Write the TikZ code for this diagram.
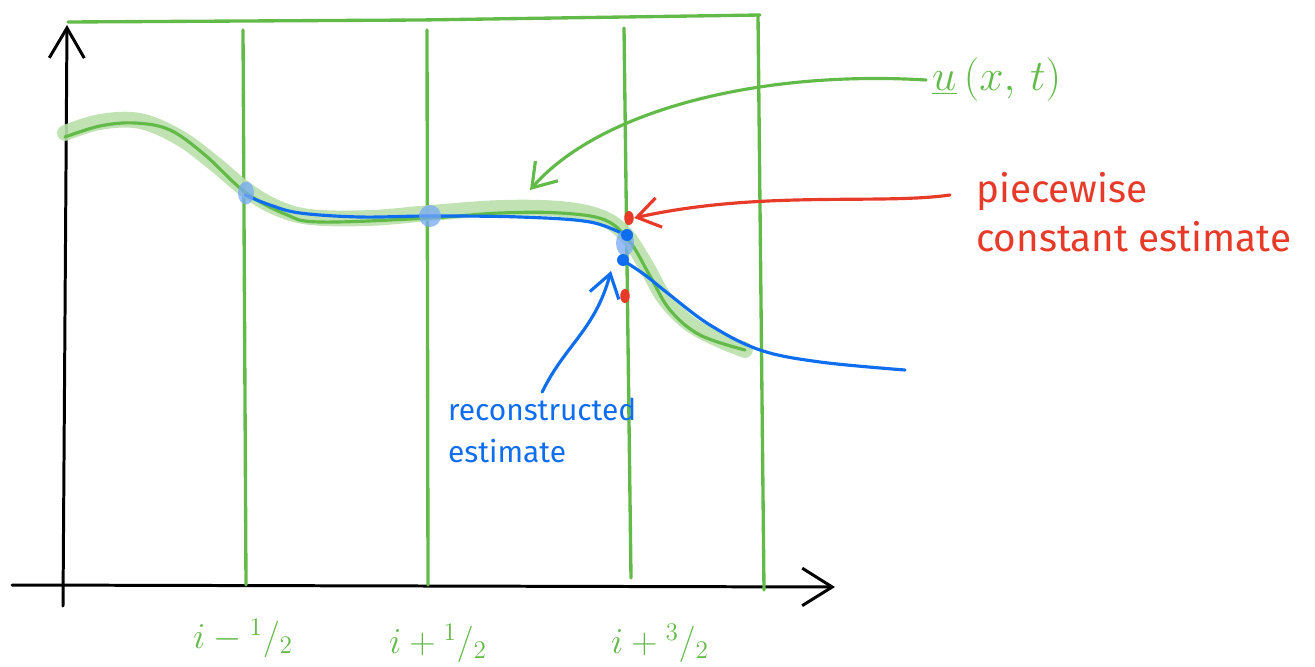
\documentclass[tikz,border=0pt]{standalone}
\usepackage{fontspec}
\setmainfont{Fira Sans}
\usetikzlibrary{arrows.meta,positioning,shapes.geometric}
\definecolor{leaf}{RGB}{98,186,72}
\definecolor{leafsoft}{RGB}{186,224,172}
\definecolor{ink}{RGB}{15,110,240}
\definecolor{inksoft}{RGB}{120,170,245}
\definecolor{brick}{RGB}{232,58,40}

\begin{document}
\begin{tikzpicture}[x=0.02cm,y=-0.02cm,line cap=round,line join=round,
  axis/.style={black,line width=1.7pt},
  grid/.style={leaf,line width=1.9pt},
  band/.style={leafsoft,line width=9pt,opacity=0.9},
  exact/.style={leaf,line width=1.8pt},
  recon/.style={ink,line width=1.8pt},
  handtip/.style={-{Straight Barb[length=0.45cm,width=0.6cm,line width=1.8pt]}},
  blob/.style={fill=inksoft,opacity=0.75,inner sep=0pt},
  dot/.style={circle,inner sep=0pt,minimum size=0.24cm},
  reddot/.style={ellipse,fill=brick,inner sep=0pt,minimum width=0.19cm,minimum height=0.28cm},
  lbl/.style={leaf,font=\fontsize{20}{24}\selectfont}]
\useasboundingbox (0,0) rectangle (1315,666);
% axes
\coordinate (o) at (63,606);
\draw[axis,-{Straight Barb[length=0.6cm,width=0.7cm,line width=1.7pt]}] (o) -- (67,25);
\draw[axis,-{Straight Barb[length=0.6cm,width=0.75cm,line width=1.7pt]}] (12,585) -- (835,587);
% cell grid
\draw[grid] (68,22) -- (420,20) -- (760,15);
\foreach \xa/\xb/\ya/\yb in {243/246/30/585,427/428/30/585,624/631/28/578,758/764/15/590}
  \draw[grid] (\xa,\ya) -- (\xb,\yb);
% exact solution
\draw[band] plot[smooth,tension=0.6] coordinates {(65,133) (100,122) (140,121) (180,138)
  (215,164) (245,189) (275,207) (310,217) (370,218) (430,213) (500,208) (560,209)
  (600,217) (625,234) (645,264) (665,299) (690,324) (720,340) (745,350)};
\draw[exact] plot[smooth,tension=0.6] coordinates {(65,137) (100,126) (135,123) (170,130)
  (205,155) (245,192) (285,214) (320,222) (430,218) (500,213) (560,213) (605,220)
  (630,242) (650,276) (670,310) (700,335) (745,350)};
% reconstruction
\draw[recon] plot[smooth,tension=0.6] coordinates {(245,195) (270,205) (300,213)
  (360,217) (430,216) (520,217) (590,222) (627,236)};
\draw[recon] plot[smooth,tension=0.6] coordinates {(624,261) (645,275) (670,295)
  (710,325) (760,350) (820,362) (905,370)};
% interface values
\node[blob,ellipse,minimum width=0.32cm,minimum height=0.46cm] (bA) at (246,193) {};
\node[blob,circle,minimum size=0.44cm] (bB) at (430,216) {};
\node[blob,ellipse,minimum width=0.36cm,minimum height=0.52cm] (bC) at (625,243) {};
\node[dot,fill=ink] (blueHi) at (627,235) {};
\node[dot,fill=ink] (blueLo) at (623,260) {};
\node[reddot] (redHi) at (629,218) {};
\node[reddot] (redLo) at (625,296) {};
% labels
\node[lbl,anchor=west,font=\fontsize{25}{30}\selectfont] (uLbl) at (926,80) {$\underline{u}\,(x,\,t)$};
\coordinate (uEnd) at (530,190);
\draw[leaf,line width=1.8pt,handtip] (uLbl.west) .. controls (760,70) and (600,110) .. (uEnd);
\node[brick,anchor=north west,align=left,font=\fontsize{22}{28}\selectfont]
  (pcLbl) at (970,166) {piecewise\\constant estimate};
\coordinate (pcStart) at (950,195);
\draw[brick,line width=1.8pt,handtip] (pcStart) .. controls (880,205) and (760,190) .. (redHi.east);
\node[ink,anchor=north west,align=left,font=\fontsize{17}{24}\selectfont]
  (recLbl) at (442,392) {reconstructed\\estimate};
\coordinate (recEnd) at (611,271);
\draw[ink,line width=1.8pt,handtip] (recLbl.north) .. controls (565,345) and (595,330) .. (recEnd);
\node[lbl] (fm) at (243,638) {$i-{}^1/{}_2$};
\node[lbl] (fp) at (438,643) {$i+{}^1/{}_2$};
\node[lbl] (fq) at (660,643) {$i+{}^3/{}_2$};
\end{tikzpicture}
\end{document}
